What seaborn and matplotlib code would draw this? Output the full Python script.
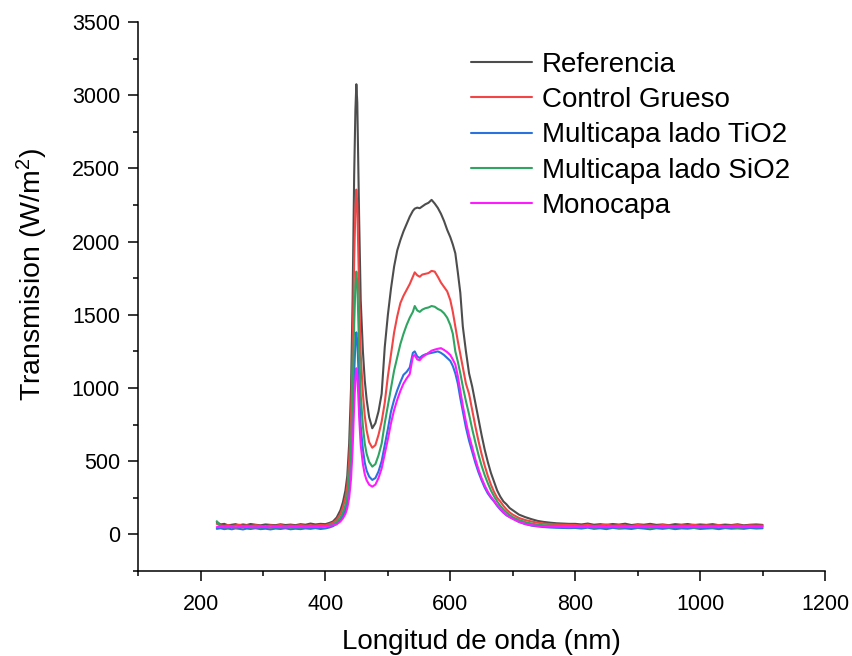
import matplotlib
matplotlib.use("Agg")
import matplotlib.pyplot as plt
from matplotlib.ticker import MultipleLocator
import numpy as np
import pandas as pd
import seaborn as sns

# ---------------- data ----------------
wl_left = [226, 232, 238, 244, 250, 256, 262, 268, 274, 280, 288, 296, 304, 312,
           320, 328, 336, 344, 352, 360, 368, 376, 384, 392, 400, 406, 412]
wl_peak = [418, 424, 428, 432, 435, 438, 441, 443.5, 446, 448, 449.5, 451, 452.5,
           454, 456.5, 460, 463, 466, 470, 475, 480, 485, 490, 495, 500]
wl_broad = [505, 510, 515, 520, 525, 530, 535, 540, 543, 547, 551, 555, 560, 565,
            570, 575, 580, 585, 590, 595, 600, 604, 608, 612, 616, 620, 625, 630,
            635, 640, 645, 650, 655, 660, 665, 670, 675, 680, 685, 690, 695, 700,
            710, 720, 730, 740, 750, 760, 770, 780, 790]
wl_right = [800, 810, 820, 830, 840, 850, 860, 870, 880, 890, 900, 910, 920, 930,
            940, 950, 960, 970, 980, 990, 1000, 1010, 1020, 1030, 1040, 1050, 1060,
            1070, 1080, 1090, 1100]
wavelength = wl_left + wl_peak + wl_broad + wl_right

referencia = [
    85, 68, 72, 62, 66, 70, 63, 68, 64, 71, 66, 62, 68, 65, 63, 69, 64, 67, 63, 70,
    66, 74, 68, 72, 70, 78, 88,
    115, 165, 220, 300, 400, 620, 1000, 1600, 2450, 2900, 3075, 2950, 2550, 2150,
    1600, 1250, 1050, 920, 800, 725, 760, 840, 960, 1280, 1500,
    1680, 1830, 1940, 2010, 2070, 2120, 2170, 2210, 2225, 2232, 2228, 2240, 2255,
    2265, 2285, 2260, 2230, 2190, 2140, 2080, 2030, 1980, 1920, 1790, 1650, 1420,
    1250, 1100, 1010, 900, 790, 680, 580, 495, 420, 360, 300, 258, 225, 205, 180,
    165, 135, 118, 104, 92, 85, 80, 76, 74, 72,
    72, 68, 74, 66, 70, 65, 71, 67, 73, 64, 69, 66, 72, 65, 68, 63, 70, 66, 71, 64,
    68, 65, 70, 63, 67, 64, 69, 62, 66, 68, 65]

control_grueso = [
    72, 62, 58, 64, 57, 61, 66, 58, 62, 57, 63, 59, 55, 62, 58, 64, 57, 61, 58, 63,
    59, 62, 60, 64, 62, 70, 80,
    100, 140, 185, 250, 330, 500, 790, 1250, 1880, 2220, 2355, 2260, 1960, 1650,
    1230, 960, 810, 710, 630, 592, 610, 680, 770, 900, 1080,
    1230, 1380, 1490, 1580, 1630, 1670, 1710, 1760, 1790, 1770, 1760, 1775, 1780,
    1785, 1800, 1795, 1760, 1720, 1690, 1660, 1600, 1520, 1420, 1320, 1230, 1140,
    1030, 960, 850, 740, 640, 550, 470, 400, 340, 290, 250, 225, 195, 170, 150,
    135, 112, 98, 88, 80, 74, 70, 68, 66, 65,
    64, 60, 66, 58, 62, 67, 59, 63, 61, 57, 65, 60, 62, 58, 64, 61, 57, 63, 60, 66,
    58, 62, 59, 64, 57, 61, 63, 58, 62, 60, 61]

multicapa_tio2 = [
    38, 42, 36, 40, 35, 41, 38, 34, 40, 37, 42, 36, 39, 34, 40, 37, 42, 35, 39, 36,
    41, 38, 43, 37, 41, 47, 56,
    72, 98, 125, 165, 215, 310, 480, 750, 1100, 1310, 1380, 1320, 1160, 980,
    740, 580, 490, 435, 395, 372, 385, 430, 500, 610, 720,
    840, 920, 985, 1040, 1090, 1110, 1140, 1240, 1250, 1215, 1205, 1220, 1230,
    1235, 1240, 1245, 1250, 1240, 1225, 1205, 1185, 1150, 1100, 1030, 930, 840,
    730, 640, 565, 490, 425, 370, 320, 280, 250, 225, 195, 170, 148, 130, 118,
    108, 85, 70, 60, 54, 50, 47, 45, 44, 43,
    44, 40, 46, 38, 42, 36, 45, 39, 41, 37, 44, 40, 35, 42, 38, 43, 36, 41, 39, 44,
    37, 40, 42, 36, 43, 39, 41, 38, 44, 40, 42]

multicapa_sio2 = [
    90, 55, 50, 47, 53, 45, 50, 48, 54, 46, 51, 47, 52, 45, 50, 48, 53, 46, 50, 47,
    52, 49, 55, 50, 54, 60, 68,
    85, 115, 150, 200, 260, 390, 610, 960, 1430, 1700, 1795, 1720, 1500, 1260,
    950, 740, 620, 550, 495, 463, 480, 540, 620, 760, 880,
    1000, 1120, 1210, 1300, 1370, 1430, 1480, 1520, 1560, 1530, 1520, 1535, 1545,
    1550, 1560, 1555, 1540, 1530, 1510, 1480, 1430, 1370, 1250, 1180, 1100, 1010,
    910, 820, 720, 630, 545, 470, 405, 350, 300, 260, 225, 195, 170, 150, 132,
    118, 98, 84, 74, 67, 62, 60, 58, 57, 56,
    55, 50, 53, 47, 52, 49, 56, 46, 51, 54, 48, 52, 45, 50, 53, 47, 51, 49, 55, 46,
    50, 52, 47, 53, 48, 51, 45, 50, 54, 49, 52]

monocapa = [
    50, 52, 49, 51, 50, 48, 51, 49, 52, 50, 48, 51, 50, 49, 52, 50, 48, 51, 50, 52,
    49, 53, 51, 54, 55, 58, 62,
    70, 88, 110, 140, 180, 250, 380, 580, 880, 1060, 1135, 1090, 960, 800,
    610, 480, 410, 370, 340, 326, 340, 385, 450, 550, 650,
    760, 850, 920, 980, 1030, 1065, 1095, 1215, 1225, 1195, 1190, 1210, 1225,
    1240, 1255, 1262, 1268, 1272, 1260, 1245, 1225, 1195, 1160, 1080, 980, 880,
    770, 675, 595, 515, 445, 385, 335, 292, 258, 230, 200, 175, 152, 133, 118,
    106, 86, 72, 63, 58, 55, 53, 52, 51, 50,
    52, 51, 53, 50, 52, 51, 53, 50, 51, 52, 50, 53, 51, 52, 50, 51, 53, 50, 52, 51,
    50, 52, 51, 53, 50, 52, 51, 50, 52, 51, 52]

series_names = ["Referencia", "Control Grueso", "Multicapa lado TiO2",
                "Multicapa lado SiO2", "Monocapa"]
series_values = [referencia, control_grueso, multicapa_tio2, multicapa_sio2, monocapa]
colors = ["#4d4d4d", "#f24545", "#2a72dc", "#2fa562", "#ff1aff"]

x_ticks = [200, 400, 600, 800, 1000, 1200]
y_ticks = [0, 500, 1000, 1500, 2000, 2500, 3000, 3500]

# ---------------- build long table ----------------
frames = []
for name, vals in zip(series_names, series_values):
    frames.append(pd.DataFrame({"wl": wavelength, "val": vals, "serie": name}))
df = pd.concat(frames, ignore_index=True)

# ---------------- style ----------------
sns.set_style("ticks")
plt.rcParams["font.family"] = ["Liberation Sans", "DejaVu Sans"]
plt.rcParams["mathtext.default"] = "regular"
plt.rcParams["text.color"] = "black"
plt.rcParams["axes.labelcolor"] = "black"
plt.rcParams["xtick.color"] = "black"
plt.rcParams["ytick.color"] = "black"

W, H = 852, 656
fig = plt.figure(figsize=(W / 100, H / 100), dpi=100)
left, right, top, bottom = 138.1, 825.0, 22.0, 571.0
ax = fig.add_axes([left / W, 1 - bottom / H, (right - left) / W, (bottom - top) / H])

sns.lineplot(data=df, x="wl", y="val", hue="serie", hue_order=series_names,
             palette=colors, linewidth=1.5, ax=ax, sort=False, legend=True)

ax.set_xlim(100, 1200)
ax.set_ylim(-250, 3500)
ax.set_xticks(x_ticks)
ax.set_yticks(y_ticks)
ax.xaxis.set_minor_locator(MultipleLocator(100))
ax.yaxis.set_minor_locator(MultipleLocator(250))

for s in ["top", "right"]:
    ax.spines[s].set_visible(False)
for s in ["left", "bottom"]:
    ax.spines[s].set_linewidth(1.1)
    ax.spines[s].set_color("black")

ax.tick_params(which="major", direction="out", length=7, width=1.1,
               labelsize=15.5, pad=6, colors="black", labelcolor="black")
ax.tick_params(axis="x", which="major", pad=9.5)
ax.tick_params(which="minor", direction="out", length=3.8, width=1.1, colors="black")

ax.set_xlabel("Longitud de onda (nm)", fontsize=20, color="black")
ax.set_ylabel("Transmision (W/m$^{2}$)", fontsize=20.5, color="black")
ax.xaxis.set_label_coords(0.5, -0.106)
ax.yaxis.set_label_coords(-0.128, 0.54)

handles, labels = ax.get_legend_handles_labels()
for h in handles:
    h.set_linewidth(1.5)
leg = ax.legend(handles, labels, loc="upper left",
                bbox_to_anchor=(470.7 / W, 1 - 52 / H),
                bbox_transform=fig.transFigure, frameon=False, fontsize=20,
                handlelength=2.2, handletextpad=0.35, labelspacing=0.33,
                borderpad=0, borderaxespad=0)
for t in leg.get_texts():
    t.set_color("black")

fig.savefig("out.png", dpi=100)
